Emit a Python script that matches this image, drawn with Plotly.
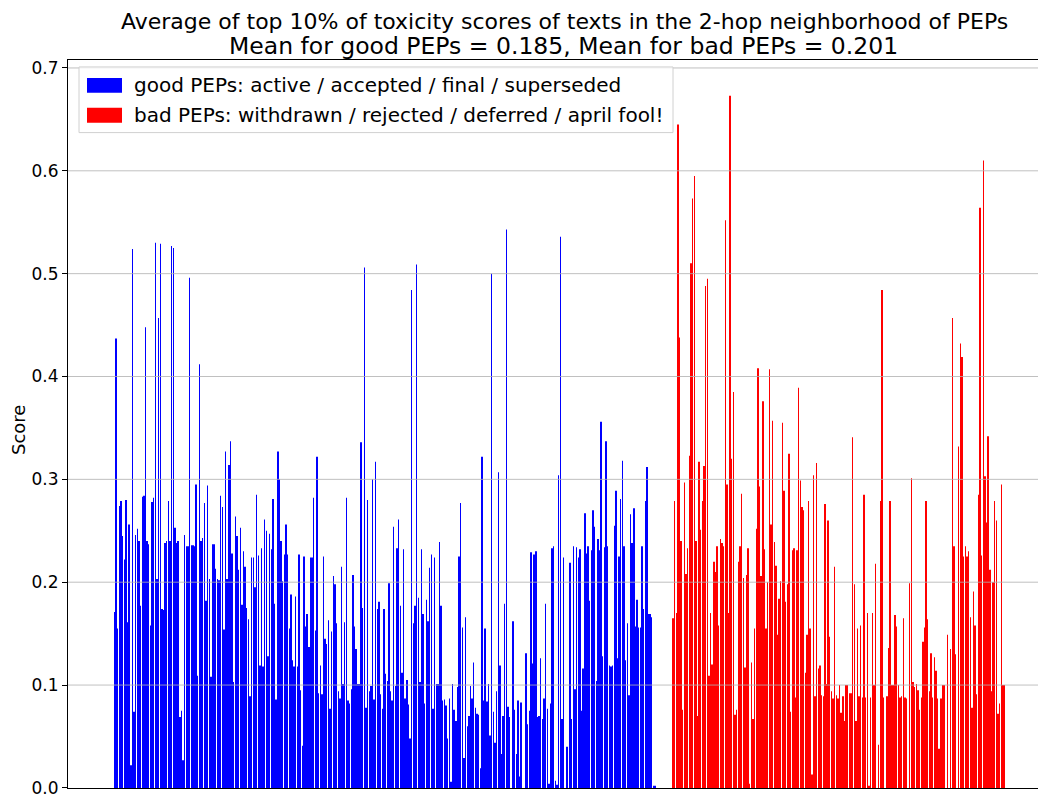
import plotly.graph_objects as go

# ---------------- data ----------------
good_part1 = [0.171, 0.437, 0.155, 0.274, 0.279, 0.245, 0.222, 0.280, 0.161, 0.256, 0.022, 0.524, 0.074,
              0.246, 0.252, 0.240, 0.177, 0.283, 0.284, 0.448, 0.240, 0.237, 0.158, 0.278, 0.282, 0.530,
              0.203, 0.457, 0.529, 0.174, 0.173, 0.238, 0.240, 0.279, 0.240, 0.527, 0.525, 0.253, 0.238,
              0.240, 0.069, 0.075, 0.027, 0.246, 0.235, 0.235, 0.496, 0.236, 0.236, 0.235, 0.295, 0.109,
              0.412, 0.240, 0.243]
good_part2 = [0.277, 0.182, 0.294, 0.203, 0.108, 0.237, 0.237, 0.213, 0.203, 0.202, 0.284, 0.273, 0.154,
              0.327, 0.203, 0.314, 0.337, 0.228, 0.103, 0.264, 0.245, 0.212, 0.253, 0.178, 0.230, 0.215,
              0.175, 0.164, 0.089, 0.224, 0.224, 0.195, 0.285, 0.226, 0.119, 0.233, 0.118, 0.261, 0.250,
              0.128, 0.247, 0.232, 0.281, 0.179, 0.086, 0.327, 0.300, 0.240, 0.201, 0.227, 0.256, 0.227,
              0.155, 0.188]
good_part3 = [0.124, 0.118, 0.186, 0.118, 0.227, 0.095, 0.041, 0.225, 0.157, 0.169, 0.137, 0.224, 0.224,
              0.282, 0.153, 0.322, 0.092, 0.119, 0.091, 0.225, 0.145, 0.140, 0.163, 0.077, 0.152, 0.206,
              0.198, 0.160, 0.094, 0.087, 0.215, 0.101, 0.161, 0.282, 0.085, 0.082, 0.096, 0.207, 0.157,
              0.135, 0.101, 0.101, 0.336, 0.175, 0.506, 0.078, 0.280, 0.094, 0.099, 0.300, 0.086, 0.317,
              0.174, 0.181]
good_part4 = [0.091, 0.077, 0.174, 0.111, 0.104, 0.199, 0.094, 0.085, 0.254, 0.099, 0.233, 0.261, 0.177,
              0.112, 0.232, 0.087, 0.105, 0.081, 0.048, 0.484, 0.160, 0.177, 0.509, 0.185, 0.103, 0.232,
              0.169, 0.082, 0.183, 0.162, 0.214, 0.227, 0.077, 0.224, 0.101, 0.101, 0.239, 0.177, 0.085,
              0.086, 0.080, 0.048, 0.087, 0.006, 0.101, 0.076, 0.065, 0.098, 0.225, 0.277, 0.156, 0.029,
              0.166, 0.060, 0.070]
good_part5 = [0.099, 0.087, 0.122, 0.078, 0.072, 0.071, 0.019, 0.322, 0.085, 0.155, 0.084, 0.101, 0.051,
              0.500, 0.074, 0.044, 0.094, 0.307, 0.119, 0.033, 0.070, 0.179, 0.543, 0.079, 0.069, 0.0,
              0.162, 0.076, 0.033, 0.085, 0.011, 0.083, 0.0, 0.0, 0.131, 0.062, 0.075, 0.229, 0.121, 0.227,
              0.230, 0.069, 0.070, 0.126, 0.067, 0.087, 0.179, 0.077, 0.004, 0.082, 0.233, 0.235, 0.007,
              0.003]
good_part6 = [0.304, 0.536, 0.067, 0.224, 0.0, 0.040, 0.0, 0.219, 0.067, 0.235, 0.096, 0.234, 0.224, 0.232,
              0.075, 0.116, 0.267, 0.228, 0.235, 0.182, 0.231, 0.270, 0.254, 0.104, 0.242, 0.231, 0.356,
              0.128, 0.234, 0.337, 0.235, 0.119, 0.118, 0.119, 0.255, 0.289, 0.126, 0.225, 0.281, 0.318,
              0.235, 0.124, 0.160, 0.090, 0.266, 0.238, 0.272, 0.157, 0.183, 0.156, 0.156, 0.235, 0.174,
              0.279, 0.312, 0.169, 0.169, 0.166]
good_part7 = [0.002, 0.002, 0.0, 0.0, 0.0, 0.0, 0.0, 0.0, 0.0, 0.0, 0.0, 0.0]

bad_part1 = [0.165, 0.279, 0.170, 0.645, 0.438, 0.240, 0.076, 0.297, 0.208, 0.233,
             0.323, 0.510, 0.573, 0.595, 0.240, 0.070, 0.317, 0.251, 0.279, 0.313,
             0.488, 0.495, 0.109, 0.170, 0.120, 0.220, 0.210, 0.235, 0.158, 0.242,
             0.238, 0.235, 0.552, 0.295, 0.170, 0.673, 0.320, 0.385, 0.071, 0.076,
             0.220, 0.235, 0.286, 0.204, 0.117, 0.207, 0.233, 0.004, 0.122, 0.067,
             0.155, 0.252, 0.408, 0.293, 0.206, 0.376, 0.232, 0.155, 0.200, 0.407,
             0.256, 0.357, 0.239, 0.216, 0.149, 0.184, 0.201, 0.355, 0.289, 0.181]
bad_part2 = [0.198, 0.325, 0.074, 0.231, 0.233, 0.088, 0.231, 0.389, 0.299, 0.273,
             0.270, 0.112, 0.149, 0.279, 0.155, 0.013, 0.304, 0.089, 0.316, 0.116,
             0.119, 0.090, 0.089, 0.276, 0.101, 0.260, 0.147, 0.094, 0.087, 0.215,
             0.090, 0.087, 0.100, 0.073, 0.089, 0.065, 0.100]
bad_part3 = [0.100, 0.092, 0.092, 0.341, 0.198, 0.065, 0.155, 0.089, 0.158, 0.088,
             0.285, 0.088, 0.170, 0.002, 0.088, 0.170, 0.100, 0.218, 0.0, 0.042,
             0.279, 0.484, 0.088, 0.0, 0.089, 0.136, 0.279, 0.100, 0.100, 0.168,
             0.157, 0.100, 0.088, 0.089, 0.165, 0.088, 0.087, 0.0, 0.199, 0.301,
             0.103, 0.098, 0.101, 0.095, 0.076, 0.088, 0.142, 0.156, 0.279, 0.164,
             0.094, 0.131, 0.088, 0.127, 0.114, 0.087, 0.038, 0.087, 0.100, 0.100]
bad_part4 = [0.0, 0.149, 0.0, 0.135, 0.457, 0.235, 0.130, 0.0, 0.332, 0.432,
             0.419, 0.225, 0.235, 0.225, 0.230, 0.166, 0.078, 0.191, 0.158, 0.091,
             0.285, 0.564, 0.226, 0.610, 0.303, 0.258, 0.342, 0.212, 0.094, 0.200,
             0.279, 0.260, 0.072, 0.082, 0.295, 0.100, 0.100]

y_ticks = [0.0, 0.1, 0.2, 0.3, 0.4, 0.5, 0.6, 0.7]
y_tick_labels = ["0.0", "0.1", "0.2", "0.3", "0.4", "0.5", "0.6", "0.7"]

title_line1 = "Average of top 10% of toxicity scores of texts in the 2-hop neighborhood of PEPs"
title_line2 = "Mean for good PEPs = 0.185, Mean for bad PEPs = 0.201"
good_label = "good PEPs: active / accepted / final / superseded"
bad_label = "bad PEPs: withdrawn / rejected / deferred / april fool!"

# ---------------- assemble ----------------
good = good_part1 + good_part2 + good_part3 + good_part4 + good_part5 + good_part6 + good_part7
bad = bad_part1 + bad_part2 + bad_part3 + bad_part4
n_good, n_bad = len(good), len(bad)
N = n_good + n_bad
x_good = list(range(n_good))
x_bad = list(range(n_good, N))

W, H = 1038, 798
L, R, T, B = 68, 1038, 60, 792
PW, PH = R - L, B - T

# matplotlib-like 5% margins: first bar center ~114.5px, last ~1004.5px
span_px = 1004.5 - 114.5
units_per_px = (N - 1) / span_px
x0 = -(114.5 - L) * units_per_px
x1 = x0 + PW * units_per_px
y_per_px = 0.7 / (B - 68)
y_top = 0.7 + (68 - T) * y_per_px
y_bot = -0.0001

# plotly widens sub-2px bars to whole pixels; a thin nominal width gives ~1.4px bars
BAR_W = 0.25


def px(x):
    return (x - L) / PW


def py(y):
    return (B - y) / PH


FONT = "DejaVu Sans"

fig = go.Figure()
fig.add_trace(go.Bar(x=x_good, y=good, name=good_label, width=BAR_W,
                     marker=dict(color="#0000ff", line=dict(width=0)), showlegend=False))
fig.add_trace(go.Bar(x=x_bad, y=bad, name=bad_label, width=BAR_W,
                     marker=dict(color="#ff0000", line=dict(width=0)), showlegend=False))

shapes = []
for v in y_ticks[1:]:
    shapes.append(dict(type="line", xref="paper", yref="y", x0=0, x1=1, y0=v, y1=v,
                       line=dict(color="#b0b0b0", width=0.8), layer="above"))

# legend box (matplotlib style)
lx0, lx1, ly0, ly1 = 79, 673, 67, 133
shapes.append(dict(type="rect", xref="paper", yref="paper", x0=px(lx0), x1=px(lx1), y0=py(ly1), y1=py(ly0),
                   line=dict(color="#d0d0d0", width=1), fillcolor="rgba(255,255,255,0.8)", layer="above"))
shapes.append(dict(type="rect", xref="paper", yref="paper", x0=px(87), x1=px(122), y0=py(93), y1=py(78),
                   line=dict(width=0), fillcolor="#0000ff", layer="above"))
shapes.append(dict(type="rect", xref="paper", yref="paper", x0=px(87), x1=px(122), y0=py(123), y1=py(108),
                   line=dict(width=0), fillcolor="#ff0000", layer="above"))

annotations = [
    dict(text=title_line1, xref="paper", yref="paper", x=px(564.5), y=py(21), xanchor="center",
         yanchor="middle", showarrow=False, font=dict(family=FONT, size=22, color="black")),
    dict(text=title_line2, xref="paper", yref="paper", x=px(563), y=py(46), xanchor="center",
         yanchor="middle", showarrow=False, font=dict(family=FONT, size=23.5, color="black")),
    dict(text=good_label, xref="paper", yref="paper", x=px(132), y=py(85.5), xanchor="left", yanchor="middle",
         showarrow=False, font=dict(family=FONT, size=20, color="black")),
    dict(text=bad_label, xref="paper", yref="paper", x=px(132), y=py(115.5), xanchor="left", yanchor="middle",
         showarrow=False, font=dict(family=FONT, size=20, color="black")),
    dict(text="Score", xref="paper", yref="paper", x=px(19), y=py(432), xanchor="center", yanchor="middle",
         textangle=-90, showarrow=False, font=dict(family=FONT, size=18, color="black")),
]

fig.update_layout(
    width=W, height=H,
    margin=dict(l=L, r=W - R, t=T, b=H - B, pad=0),
    paper_bgcolor="white", plot_bgcolor="white",
    barmode="overlay",
    xaxis=dict(range=[x0, x1], showticklabels=False, ticks="", showgrid=False, zeroline=False,
               showline=True, linecolor="black", linewidth=1, mirror=True),
    yaxis=dict(range=[y_bot, y_top], tickvals=y_ticks, ticktext=y_tick_labels, ticks="outside", ticklen=5,
               tickwidth=1, tickcolor="black", showgrid=False, zeroline=False, showline=True,
               linecolor="black", linewidth=1, ticklabeloverflow="allow",
               tickfont=dict(family=FONT, size=17, color="black")),
    shapes=shapes,
    annotations=annotations,
    showlegend=False,
)

fig.write_html("out.html")
